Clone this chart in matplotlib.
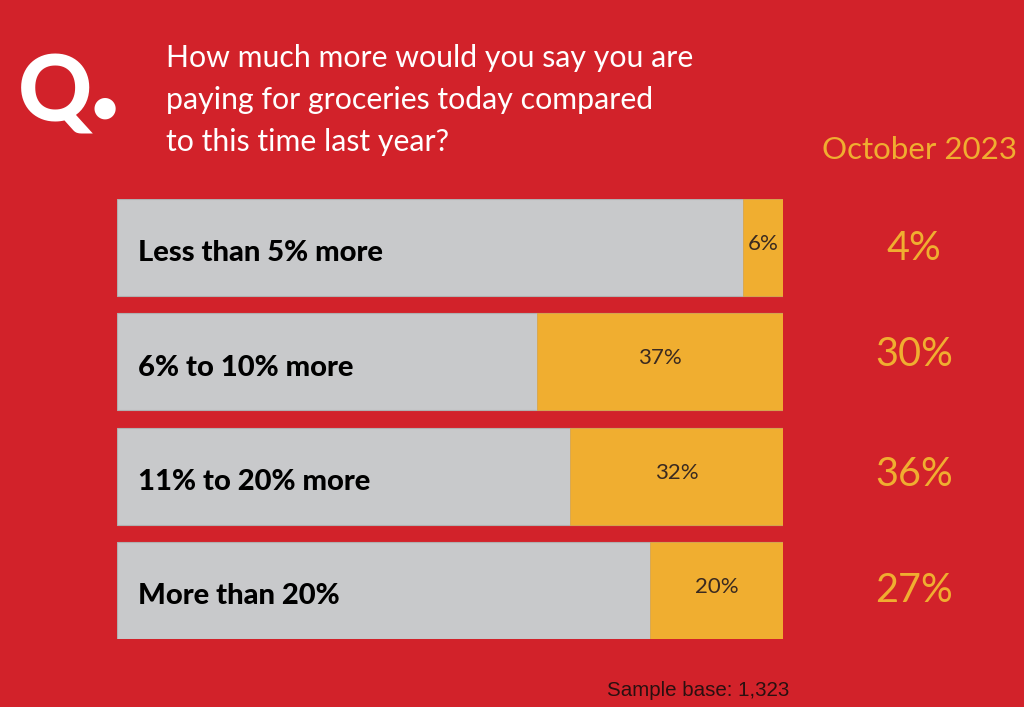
import matplotlib
matplotlib.use("Agg")
import matplotlib.pyplot as plt

categories = ["Less than 5% more", "6% to 10% more", "11% to 20% more", "More than 20%"]
current = [6, 37, 32, 20]
october_2023 = [4, 30, 36, 27]

red = "#D2222A"
gray = "#C8C9CB"
orange = "#F0AE30"

fig = plt.figure(figsize=(10.24, 7.07), dpi=100)
fig.patch.set_facecolor(red)

W, H = 1024, 707
top, bottom = 199, 639
ax = fig.add_axes([117 / W, 1 - bottom / H, (783 - 117) / W, (bottom - top) / H])
ax.set_facecolor(red)
ax.set_xlim(0, 100)
ax.set_ylim(len(categories) - 1 + 0.425, -0.425)
ax.axis("off")

ypos = list(range(len(categories)))
ax.barh(ypos, [100] * len(categories), height=0.85, color=gray, edgecolor="#b0b0b0", linewidth=0.8)
lefts = [100 - v for v in current]
ax.barh(ypos, current, left=lefts, height=0.85, color=orange, edgecolor="#d8a040", linewidth=0.5)

for i, (cat, v) in enumerate(zip(categories, current)):
    ax.text(3.2, i + 0.05, cat, va="center", ha="left", fontsize=21, fontweight=900,
            family="Lato", color="black")
    ax.text(100 - v / 2, i - 0.03, f"{v}%", va="center", ha="center", fontsize=16,
            family="Lato", color="#3a2a20")

# right-hand column
fig.text(920 / W, 1 - 150 / H, "October 2023", ha="center", va="center", fontsize=22.5,
         family="Lato", color=orange)
yvals = [248, 355, 475, 590]
for y, v in zip(yvals, october_2023):
    fig.text(914 / W, 1 - y / H, f"{v}%", ha="center", va="center", fontsize=28.5,
             family="Lato", color=orange)

# question
fig.text(18 / W, 1 - 96 / H, "Q", ha="left", va="center", fontsize=66, fontweight=900,
         family="Lato", color="white")
fig.text(92 / W, 1 - 108 / H, "\u25CF", ha="left", va="center", fontsize=20,
         family="DejaVu Sans", color="white")
question = "How much more would you say you are\npaying for groceries today compared\nto this time last year?"
fig.text(166 / W, 1 - 44 / H, question, ha="left", va="top", fontsize=21.8, family="Lato",
         color="white", linespacing=1.6)

fig.text(607 / W, 1 - 690 / H, "Sample base: 1,323", ha="left", va="center", fontsize=14.8,
         family="Liberation Sans", color="#2a1010")

fig.savefig("out.png", dpi=100, facecolor=red)
